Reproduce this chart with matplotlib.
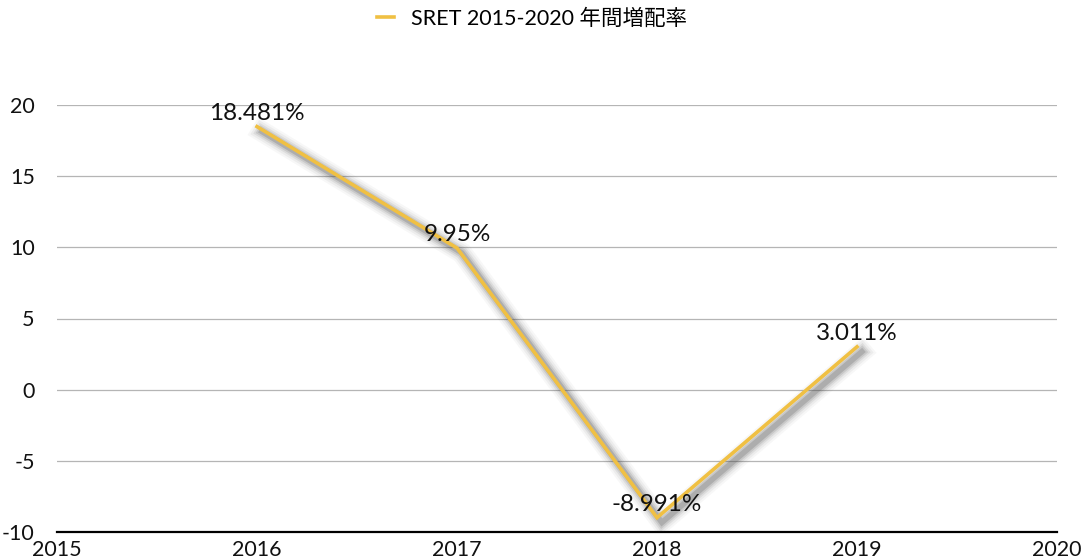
import matplotlib
matplotlib.use("Agg")
import matplotlib.pyplot as plt
import matplotlib.patheffects as pe

plt.rcParams['font.family'] = ['Lato', 'Noto Sans CJK JP', 'DejaVu Sans']

## Data
years = [2016, 2017, 2018, 2019]
growth = [18.481, 9.95, -8.991, 3.011]
labels = ["18.481%", "9.95%", "-8.991%", "3.011%"]
series_name = u"SRET 2015-2020 年間増配率"
line_color = "#F0C043"

fig = plt.figure(figsize=(10.88, 5.6), dpi=100)
ax = fig.add_axes([57/1088, 1-532/560, 1000/1088, 427/560])

# blurred drop shadow made from stacked translucent strokes
shadow = []
for lw, a in [(15, 0.04), (12, 0.06), (9, 0.09), (6.5, 0.13), (4, 0.2)]:
    shadow.append(pe.SimpleLineShadow(offset=(3.5, -3.5), shadow_color="#444444", alpha=a, linewidth=lw))
shadow.append(pe.Normal())

ax.plot(years, growth, color=line_color, linewidth=2.6, label=series_name,
        solid_joinstyle='miter', path_effects=shadow, zorder=3)

for x, y, s in zip(years, growth, labels):
    ax.annotate(s, (x, y), xytext=(0, 2), textcoords='offset points',
                ha='center', va='bottom', fontsize=17.5,
                color='#111111', zorder=4)

## Axes
ax.set_xlim(2015, 2020)
ax.set_ylim(-10, 20)
ax.set_xticks([2015, 2016, 2017, 2018, 2019, 2020])
ax.set_yticks([-10, -5, 0, 5, 10, 15, 20])
ax.set_yticklabels(["-10", "-5", "0", "5", "10", "15", "20"])
ax.tick_params(axis='both', length=0, labelsize=15.5, colors='#111111')
ax.tick_params(axis='y', pad=16)
ax.tick_params(axis='x', pad=5.5)
for side in ['top', 'right', 'left']:
    ax.spines[side].set_visible(False)
ax.spines['bottom'].set_color('black')
ax.spines['bottom'].set_linewidth(1.6)
ax.grid(axis='y', color='#b5b5b5', linewidth=0.9)
ax.set_axisbelow(True)

leg = fig.legend(loc='upper center', bbox_to_anchor=(0.489, 1.02), frameon=False,
                 fontsize=15.5, handlelength=0.8, handletextpad=0.8)
for h in leg.get_lines():
    h.set_path_effects([])

plt.savefig("out.png", dpi=100)
